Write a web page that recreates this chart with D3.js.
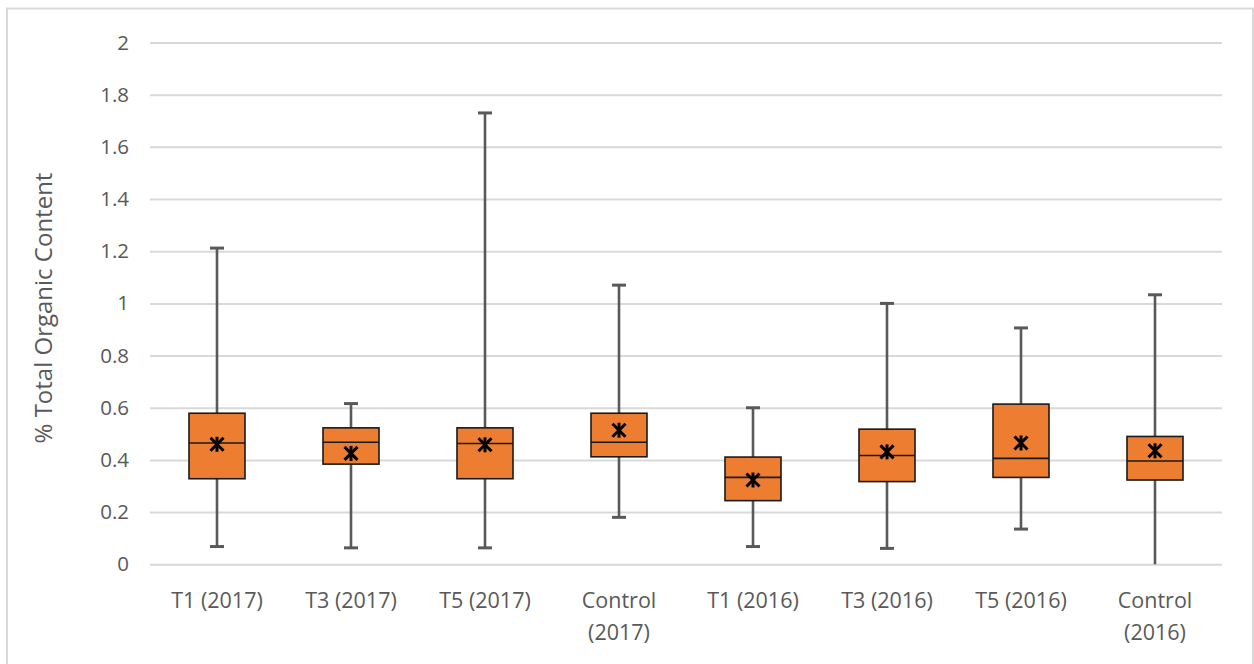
<!DOCTYPE html>
<html><head><meta charset="utf-8">
<script src="https://cdn.jsdelivr.net/npm/d3@7"></script>
<style>body{margin:0;background:#fff;}</style>
</head><body><svg id="c" width="1254" height="664"></svg>
<script>
const categories = [["T1 (2017)"],["T3 (2017)"],["T5 (2017)"],["Control","(2017)"],["T1 (2016)"],["T3 (2016)"],["T5 (2016)"],["Control","(2016)"]];
const whiskerLow = [0.068,0.063,0.063,0.18,0.068,0.061,0.135,0.0];
const q1 = [0.328,0.384,0.328,0.412,0.244,0.317,0.333,0.323];
const median = [0.465,0.468,0.463,0.468,0.333,0.417,0.406,0.396];
const q3 = [0.579,0.523,0.523,0.579,0.411,0.518,0.614,0.49];
const whiskerHigh = [1.212,0.616,1.73,1.07,0.6,1.0,0.906,1.033];
const mean = [0.46,0.425,0.458,0.514,0.323,0.431,0.465,0.435];
const yTicks = [0,0.2,0.4,0.6,0.8,1,1.2,1.4,1.6,1.8,2];

const svg = d3.select("#c");
svg.append("rect").attr("x",7).attr("y",8.5).attr("width",1246).attr("height",670)
  .attr("fill","#fff").attr("stroke","#d9d9d9").attr("stroke-width",2);

const x = d3.scaleBand().domain(d3.range(categories.length)).range([150,1222]).paddingInner(0).paddingOuter(0);
const y = d3.scaleLinear().domain([0,2]).range([564.3,42.5]);
const font = "'Open Sans',sans-serif";

const gy = svg.append("g").attr("transform","translate(150,0)")
  .call(d3.axisLeft(y).tickValues(yTicks).tickSize(-1072).tickPadding(21).tickFormat(d3.format("")));
gy.select(".domain").remove();
gy.selectAll(".tick line").attr("stroke","#d9d9d9").attr("stroke-width",2);
gy.selectAll(".tick text").attr("fill","#595959").style("font-family",font).style("font-size","20.5px");

const gx = svg.append("g").attr("transform","translate(0,564.3)")
  .call(d3.axisBottom(x).tickSize(0).tickPadding(0).tickFormat(""));
gx.select(".domain").remove();
gx.selectAll(".tick").each(function(d){
  const t = d3.select(this).append("text").attr("fill","#595959").attr("text-anchor","middle")
    .style("font-family",font).style("font-size","21.5px").attr("textLength",null);
  categories[d].forEach((s,i)=>t.append("tspan").attr("x",0).attr("y",44+i*32).text(s));
});

const bw = 56, cap = 14;
const g = svg.append("g");
categories.forEach((c,i)=>{
  const cx = x(i) + x.bandwidth()/2;
  const wc = "#595959";
  g.append("line").attr("x1",cx).attr("x2",cx).attr("y1",y(q3[i])).attr("y2",y(whiskerHigh[i])).attr("stroke",wc).attr("stroke-width",2.6);
  g.append("line").attr("x1",cx).attr("x2",cx).attr("y1",y(q1[i])).attr("y2",y(whiskerLow[i])).attr("stroke",wc).attr("stroke-width",2.6);
  g.append("line").attr("x1",cx-cap/2).attr("x2",cx+cap/2).attr("y1",y(whiskerHigh[i])).attr("y2",y(whiskerHigh[i])).attr("stroke",wc).attr("stroke-width",3);
  if (whiskerLow[i] > 0.001)
    g.append("line").attr("x1",cx-cap/2).attr("x2",cx+cap/2).attr("y1",y(whiskerLow[i])).attr("y2",y(whiskerLow[i])).attr("stroke",wc).attr("stroke-width",3);
  g.append("rect").attr("x",cx-bw/2).attr("y",y(q3[i])).attr("width",bw).attr("height",y(q1[i])-y(q3[i]))
    .attr("fill","#ED7D31").attr("stroke","#1a1a1a").attr("stroke-width",1.6);
  g.append("line").attr("x1",cx-bw/2).attr("x2",cx+bw/2).attr("y1",y(median[i])).attr("y2",y(median[i])).attr("stroke","#1a1a1a").attr("stroke-width",1.6);
  const my = y(mean[i]), s = 6.5;
  const m = g.append("g").attr("stroke","#000").attr("stroke-width",3);
  m.append("line").attr("x1",cx-s).attr("y1",my-s).attr("x2",cx+s).attr("y2",my+s);
  m.append("line").attr("x1",cx-s).attr("y1",my+s).attr("x2",cx+s).attr("y2",my-s);
  m.append("line").attr("x1",cx).attr("y1",my-s-1).attr("x2",cx).attr("y2",my+s+1);
});

svg.append("text").attr("transform","translate(52,308) rotate(-90)").attr("text-anchor","middle")
  .attr("fill","#595959").style("font-family",font).style("font-size","24px").text("% Total Organic Content");
</script></body></html>
